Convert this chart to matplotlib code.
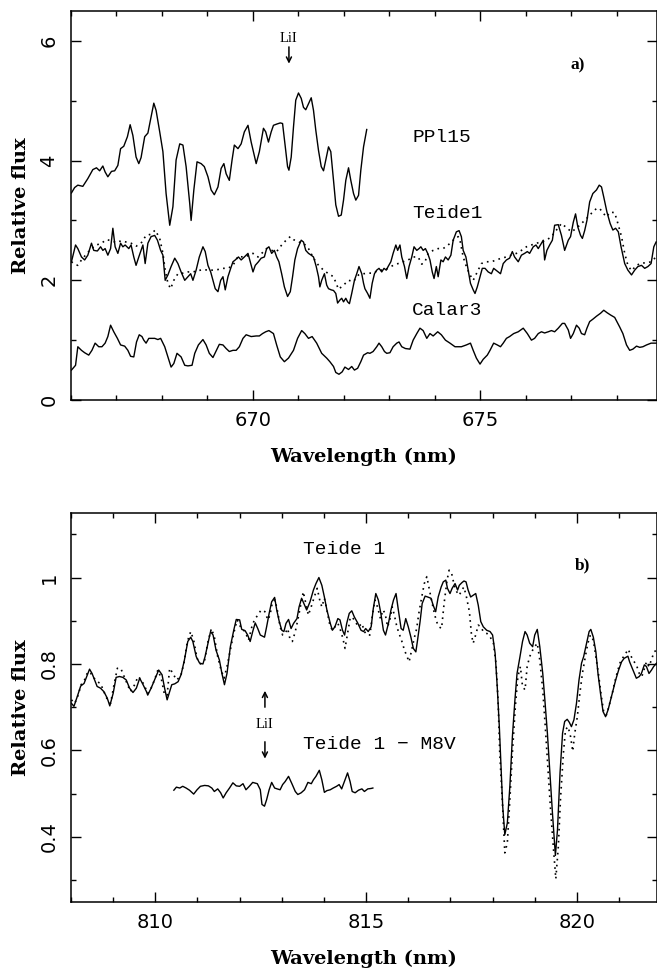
import numpy as np
import matplotlib
matplotlib.use("Agg")
import matplotlib.pyplot as plt
from matplotlib.ticker import MultipleLocator, FormatStrFormatter

# ---------------- Panel a) data (wavelength nm, relative flux) ----------------
ppl15 = np.array([
    [666.01,3.46],[666.08,3.55],[666.15,3.59],[666.26,3.57],[666.37,3.70],[666.48,3.85],[666.56,3.88],
    [666.63,3.83],[666.70,3.91],[666.75,3.81],[666.81,3.73],[666.89,3.82],[666.96,3.83],[667.03,3.92],
    [667.09,4.20],[667.16,4.24],[667.24,4.40],[667.30,4.60],[667.36,4.42],[667.43,4.06],[667.49,3.95],
    [667.54,4.05],[667.62,4.40],[667.69,4.46],[667.76,4.73],[667.82,4.96],[667.87,4.84],[667.95,4.48],
    [668.02,4.15],[668.09,3.45],[668.17,2.92],[668.24,3.23],[668.31,4.01],[668.39,4.28],[668.46,4.26],
    [668.53,3.90],[668.61,3.28],[668.64,3.00],[668.70,3.51],[668.77,3.98],[668.86,3.95],[668.93,3.90],
    [669.01,3.73],[669.08,3.51],[669.15,3.43],[669.23,3.56],[669.30,3.87],[669.36,3.95],[669.41,3.78],
    [669.48,3.67],[669.54,4.01],[669.59,4.26],[669.67,4.20],[669.74,4.28],[669.81,4.48],[669.89,4.59],
    [669.96,4.31],[670.07,3.95],[670.14,4.15],[670.23,4.54],[670.28,4.48],[670.34,4.31],[670.40,4.48],
    [670.45,4.59],[670.52,4.61],[670.60,4.63],[670.65,4.62],[670.71,4.23],[670.76,3.90],[670.79,3.84],
    [670.84,4.06],[670.89,4.56],[670.94,5.01],[671.00,5.13],[671.06,5.04],[671.11,4.89],[671.16,4.85],
    [671.22,4.95],[671.28,5.05],[671.33,4.84],[671.38,4.51],[671.44,4.17],[671.50,3.90],[671.55,3.83],
    [671.60,4.01],[671.66,4.23],[671.71,4.15],[671.77,3.67],[671.82,3.26],[671.88,3.07],[671.94,3.09],
    [671.99,3.34],[672.04,3.67],[672.10,3.88],[672.15,3.67],[672.21,3.45],[672.26,3.34],[672.32,3.42],
    [672.37,3.84],[672.43,4.23],[672.50,4.52]])

teide1_a = np.array([
    [666.01,2.31],[666.10,2.59],[666.15,2.53],[666.23,2.39],[666.30,2.34],[666.37,2.42],[666.45,2.62],
    [666.50,2.50],[666.58,2.49],[666.65,2.56],[666.70,2.50],[666.75,2.53],[666.81,2.42],[666.87,2.53],
    [666.92,2.87],[666.97,2.56],[667.03,2.45],[667.09,2.62],[667.14,2.56],[667.19,2.59],[667.27,2.53],
    [667.32,2.59],[667.38,2.39],[667.43,2.25],[667.49,2.39],[667.54,2.50],[667.58,2.59],[667.63,2.28],
    [667.69,2.62],[667.76,2.73],[667.84,2.75],[667.90,2.67],[667.97,2.50],[668.02,2.42],[668.07,2.00],
    [668.13,2.09],[668.20,2.23],[668.28,2.37],[668.35,2.28],[668.42,2.14],[668.50,2.00],[668.57,2.06],
    [668.63,2.11],[668.68,2.00],[668.75,2.17],[668.82,2.39],[668.90,2.56],[668.95,2.48],[669.01,2.25],
    [669.07,2.14],[669.12,2.00],[669.17,1.86],[669.23,1.81],[669.29,2.00],[669.34,2.06],[669.39,1.84],
    [669.45,2.06],[669.51,2.20],[669.56,2.31],[669.61,2.34],[669.68,2.39],[669.74,2.34],[669.81,2.39],
    [669.89,2.45],[669.94,2.31],[670.00,2.14],[670.05,2.25],[670.12,2.31],[670.18,2.37],[670.25,2.39],
    [670.30,2.53],[670.35,2.56],[670.41,2.45],[670.47,2.50],[670.52,2.39],[670.57,2.31],[670.63,2.11],
    [670.69,1.89],[670.76,1.73],[670.82,1.81],[670.87,2.06],[670.92,2.34],[670.98,2.53],[671.06,2.67],
    [671.11,2.64],[671.16,2.50],[671.22,2.45],[671.28,2.42],[671.33,2.39],[671.39,2.23],[671.44,2.06],
    [671.47,1.89],[671.51,2.00],[671.57,2.11],[671.62,1.92],[671.66,1.86],[671.72,1.84],[671.77,1.83],
    [671.82,1.78],[671.86,1.62],[671.91,1.67],[671.95,1.70],[671.99,1.64],[672.04,1.70],[672.08,1.64],
    [672.12,1.61],[672.17,1.78],[672.23,2.00],[672.28,2.11],[672.33,2.23],[672.39,2.11],[672.43,1.95],
    [672.46,1.86],[672.52,1.78],[672.57,1.70],[672.62,1.95],[672.67,2.11],[672.72,2.17],[672.77,2.20],
    [672.83,2.14],[672.88,2.20],[672.93,2.17],[672.97,2.23],[673.03,2.31],[673.08,2.45],[673.14,2.59],
    [673.18,2.50],[673.23,2.59],[673.27,2.39],[673.33,2.23],[673.38,2.03],[673.43,2.23],[673.49,2.39],
    [673.54,2.56],[673.60,2.50],[673.65,2.53],[673.69,2.56],[673.74,2.50],[673.79,2.53],[673.84,2.45],
    [673.89,2.34],[673.94,2.14],[673.98,2.03],[674.03,2.23],[674.07,2.06],[674.13,2.34],[674.18,2.31],
    [674.23,2.39],[674.29,2.34],[674.35,2.42],[674.40,2.67],[674.47,2.81],[674.53,2.83],[674.58,2.73],
    [674.62,2.50],[674.68,2.39],[674.73,2.17],[674.78,1.95],[674.84,1.84],[674.88,1.78],[674.93,1.89],
    [674.99,2.06],[675.04,2.20],[675.10,2.20],[675.17,2.14],[675.24,2.11],[675.29,2.20],[675.34,2.17],
    [675.39,2.14],[675.44,2.11],[675.50,2.28],[675.57,2.34],[675.64,2.37],[675.70,2.48],[675.75,2.39],
    [675.83,2.31],[675.90,2.42],[675.97,2.45],[676.03,2.48],[676.08,2.45],[676.16,2.56],[676.22,2.59],
    [676.27,2.53],[676.34,2.62],[676.38,2.67],[676.41,2.34],[676.46,2.50],[676.52,2.59],[676.58,2.67],
    [676.63,2.92],[676.71,2.93],[676.78,2.75],[676.85,2.50],[676.93,2.67],[676.98,2.73],[677.04,2.97],
    [677.09,3.11],[677.14,2.89],[677.20,2.75],[677.24,2.70],[677.29,2.83],[677.34,3.00],[677.40,3.31],
    [677.47,3.45],[677.55,3.51],[677.61,3.59],[677.66,3.56],[677.71,3.39],[677.78,3.14],[677.85,2.95],
    [677.91,2.84],[677.97,2.87],[678.03,2.81],[678.09,2.56],[678.17,2.28],[678.24,2.17],[678.32,2.09],
    [678.39,2.17],[678.46,2.23],[678.54,2.25],[678.61,2.20],[678.68,2.23],[678.75,2.28],[678.81,2.56],
    [678.86,2.64]])

teide1_a_template = np.array([
    [666.01,2.31],[666.08,2.27],[666.15,2.25],[666.23,2.34],[666.34,2.44],[666.45,2.53],[666.56,2.59],
    [666.67,2.62],[666.78,2.68],[666.89,2.66],[667.00,2.63],[667.10,2.66],[667.21,2.64],[667.32,2.62],
    [667.43,2.57],[667.54,2.62],[667.65,2.75],[667.76,2.77],[667.85,2.84],[667.95,2.70],[668.02,2.45],
    [668.07,2.17],[668.13,1.95],[668.19,1.86],[668.26,2.00],[668.35,2.11],[668.46,2.12],[668.57,2.14],
    [668.68,2.14],[668.79,2.16],[668.90,2.18],[669.01,2.17],[669.12,2.17],[669.23,2.18],[669.34,2.20],
    [669.45,2.20],[669.56,2.25],[669.67,2.40],[669.78,2.39],[669.89,2.41],[670.00,2.45],[670.11,2.39],
    [670.19,2.45],[670.30,2.53],[670.41,2.50],[670.52,2.48],[670.63,2.59],[670.74,2.68],[670.82,2.73],
    [670.89,2.68],[671.00,2.64],[671.11,2.62],[671.22,2.53],[671.33,2.37],[671.44,2.25],[671.55,2.17],
    [671.66,2.11],[671.77,2.06],[671.88,1.85],[671.99,1.92],[672.10,2.00],[672.21,1.98],[672.32,2.09],
    [672.43,2.11],[672.55,2.12],[672.65,2.12],[672.75,2.17],[672.86,2.17],[672.97,2.20],[673.08,2.25],
    [673.19,2.28],[673.30,2.31],[673.41,2.34],[673.52,2.39],[673.63,2.39],[673.71,2.27],[673.78,2.31],
    [673.85,2.45],[673.96,2.50],[674.07,2.53],[674.18,2.53],[674.29,2.59],[674.40,2.67],[674.51,2.73],
    [674.55,2.67],[674.62,2.39],[674.69,2.23],[674.77,2.09],[674.84,2.00],[674.91,2.11],[675.02,2.28],
    [675.13,2.31],[675.24,2.31],[675.35,2.34],[675.46,2.37],[675.57,2.39],[675.68,2.42],[675.79,2.45],
    [675.90,2.50],[676.01,2.56],[676.12,2.59],[676.23,2.62],[676.34,2.64],[676.45,2.67],[676.56,2.73],
    [676.67,2.84],[676.78,2.95],[676.89,2.88],[677.00,2.81],[677.11,2.87],[677.22,2.95],[677.33,3.03],
    [677.44,3.12],[677.55,3.20],[677.62,3.20],[677.70,3.12],[677.77,3.06],[677.85,3.14],[677.95,3.13],
    [678.02,2.95],[678.10,2.73],[678.17,2.45],[678.24,2.25],[678.32,2.16],[678.43,2.25],[678.54,2.29],
    [678.65,2.29],[678.75,2.31],[678.86,2.39]])

calar3 = np.array([
    [666.01,0.50],[666.10,0.58],[666.15,0.89],[666.23,0.83],[666.30,0.79],[666.39,0.75],[666.46,0.83],
    [666.53,0.95],[666.61,0.89],[666.68,0.89],[666.75,0.95],[666.81,1.06],[666.87,1.25],[666.94,1.14],
    [667.02,1.03],[667.09,0.92],[667.18,0.90],[667.25,0.83],[667.31,0.73],[667.38,0.72],[667.44,0.97],
    [667.50,1.09],[667.56,1.06],[667.60,1.00],[667.65,0.95],[667.71,1.03],[667.76,1.03],[667.84,1.03],
    [667.91,1.01],[667.97,1.03],[668.06,0.89],[668.13,0.72],[668.20,0.55],[668.26,0.61],[668.33,0.78],
    [668.42,0.72],[668.50,0.58],[668.57,0.57],[668.66,0.58],[668.72,0.78],[668.80,0.92],[668.90,1.01],
    [668.97,0.92],[669.04,0.78],[669.12,0.71],[669.19,0.82],[669.26,0.93],[669.34,0.92],[669.41,0.86],
    [669.48,0.81],[669.56,0.83],[669.63,0.83],[669.70,0.89],[669.78,1.03],[669.85,1.09],[669.96,1.06],
    [670.07,1.07],[670.14,1.07],[670.21,1.11],[670.28,1.14],[670.35,1.16],[670.45,1.11],[670.52,0.92],
    [670.60,0.72],[670.69,0.64],[670.78,0.70],[670.89,0.83],[670.98,1.03],[671.07,1.16],[671.14,1.11],
    [671.22,1.03],[671.30,1.06],[671.40,0.95],[671.51,0.78],[671.62,0.70],[671.69,0.64],[671.77,0.56],
    [671.82,0.46],[671.89,0.43],[671.96,0.47],[672.02,0.55],[672.10,0.51],[672.17,0.56],[672.23,0.50],
    [672.30,0.53],[672.37,0.64],[672.43,0.75],[672.52,0.79],[672.57,0.78],[672.64,0.81],[672.72,0.89],
    [672.77,0.95],[672.83,0.89],[672.89,0.81],[672.94,0.78],[673.01,0.79],[673.08,0.89],[673.16,0.95],
    [673.21,0.97],[673.27,0.89],[673.35,0.86],[673.45,0.85],[673.52,1.00],[673.60,1.11],[673.67,1.20],
    [673.74,1.16],[673.82,1.03],[673.89,1.11],[673.96,1.07],[674.06,1.14],[674.14,1.09],[674.23,1.00],
    [674.33,0.95],[674.44,0.89],[674.58,0.89],[674.69,0.92],[674.78,0.95],[674.84,0.83],[674.91,0.70],
    [674.99,0.60],[675.06,0.68],[675.15,0.75],[675.21,0.83],[675.29,0.95],[675.37,0.92],[675.44,0.89],
    [675.50,0.95],[675.57,1.03],[675.64,1.06],[675.73,1.11],[675.83,1.14],[675.94,1.20],[676.03,1.11],
    [676.12,1.00],[676.19,1.03],[676.27,1.11],[676.34,1.14],[676.41,1.12],[676.49,1.14],[676.56,1.16],
    [676.63,1.14],[676.71,1.20],[676.80,1.28],[676.85,1.28],[676.93,1.17],[676.98,1.03],[677.04,1.11],
    [677.11,1.25],[677.17,1.20],[677.22,1.11],[677.29,1.09],[677.34,1.20],[677.40,1.31],[677.47,1.35],
    [677.55,1.40],[677.64,1.45],[677.71,1.50],[677.78,1.46],[677.86,1.42],[677.95,1.38],[678.06,1.22],
    [678.13,1.11],[678.21,0.92],[678.28,0.83],[678.35,0.85],[678.43,0.90],[678.50,0.88],[678.57,0.89],
    [678.65,0.92],[678.75,0.95],[678.86,0.95]])

# ---------------- Panel b) data ----------------
teide1_b = np.array([
    [808.01,0.709],[808.07,0.702],[808.15,0.725],[808.23,0.749],[808.31,0.755],[808.39,0.775],[808.44,0.788],
    [808.50,0.778],[808.56,0.763],[808.62,0.748],[808.70,0.744],[808.78,0.736],[808.86,0.721],[808.92,0.703],
    [809.00,0.732],[809.07,0.769],[809.15,0.771],[809.23,0.769],[809.31,0.763],[809.39,0.744],[809.47,0.734],
    [809.55,0.744],[809.63,0.767],[809.71,0.752],[809.79,0.736],[809.82,0.728],[809.90,0.744],[810.00,0.767],
    [810.08,0.786],[810.16,0.775],[810.22,0.744],[810.28,0.717],[810.34,0.736],[810.39,0.752],[810.46,0.754],
    [810.54,0.759],[810.61,0.775],[810.69,0.809],[810.77,0.852],[810.84,0.862],[810.89,0.852],[810.97,0.817],
    [811.05,0.802],[811.13,0.800],[811.18,0.817],[811.25,0.848],[811.31,0.875],[811.37,0.867],[811.44,0.832],
    [811.52,0.809],[811.58,0.778],[811.64,0.752],[811.70,0.778],[811.78,0.840],[811.86,0.878],[811.92,0.903],
    [812.00,0.902],[812.05,0.880],[812.13,0.877],[812.19,0.867],[812.25,0.852],[812.31,0.875],[812.37,0.895],
    [812.43,0.882],[812.49,0.867],[812.59,0.862],[812.64,0.886],[812.70,0.917],[812.76,0.944],[812.83,0.954],
    [812.88,0.925],[812.94,0.898],[813.00,0.878],[813.05,0.875],[813.10,0.894],[813.16,0.903],[813.22,0.882],
    [813.28,0.894],[813.36,0.905],[813.41,0.932],[813.47,0.952],[813.54,0.936],[813.59,0.925],[813.67,0.944],
    [813.75,0.971],[813.81,0.986],[813.88,1.000],[813.95,0.982],[814.01,0.955],[814.07,0.925],[814.15,0.894],
    [814.20,0.878],[814.26,0.886],[814.33,0.905],[814.38,0.902],[814.44,0.878],[814.49,0.867],[814.54,0.894],
    [814.60,0.917],[814.66,0.923],[814.72,0.909],[814.80,0.895],[814.88,0.878],[814.94,0.875],[814.99,0.882],
    [815.05,0.875],[815.12,0.886],[815.17,0.928],[815.23,0.963],[815.29,0.948],[815.35,0.917],[815.41,0.878],
    [815.46,0.867],[815.53,0.894],[815.59,0.925],[815.65,0.948],[815.71,0.963],[815.76,0.928],[815.83,0.882],
    [815.88,0.878],[815.94,0.905],[816.00,0.886],[816.06,0.863],[816.12,0.836],[816.18,0.828],[816.22,0.855],
    [816.28,0.898],[816.33,0.940],[816.40,0.957],[816.46,0.955],[816.54,0.952],[816.59,0.936],[816.65,0.921],
    [816.71,0.955],[816.78,0.978],[816.83,0.990],[816.89,0.994],[816.93,0.975],[816.99,0.963],[817.04,0.975],
    [817.11,0.986],[817.17,0.971],[817.21,0.982],[817.27,0.988],[817.32,0.992],[817.37,0.990],[817.42,0.971],
    [817.48,0.955],[817.54,0.959],[817.60,0.963],[817.66,0.936],[817.72,0.898],[817.78,0.886],[817.86,0.878],
    [817.94,0.875],[818.00,0.867],[818.06,0.825],[818.11,0.748],[818.16,0.655],[818.20,0.563],[818.24,0.471],
    [818.29,0.405],[818.35,0.432],[818.41,0.517],[818.47,0.632],[818.53,0.717],[818.58,0.778],[818.65,0.817],
    [818.71,0.852],[818.77,0.875],[818.82,0.867],[818.88,0.848],[818.95,0.840],[819.00,0.867],[819.06,0.880],
    [819.12,0.840],[819.19,0.778],[819.24,0.717],[819.30,0.640],[819.36,0.548],[819.42,0.455],[819.49,0.357],
    [819.54,0.417],[819.60,0.548],[819.66,0.640],[819.71,0.667],[819.77,0.672],[819.82,0.665],[819.87,0.655],
    [819.93,0.671],[819.99,0.709],[820.05,0.763],[820.11,0.802],[820.16,0.817],[820.23,0.848],[820.29,0.875],
    [820.33,0.880],[820.39,0.862],[820.45,0.828],[820.50,0.778],[820.56,0.732],[820.62,0.690],[820.68,0.678],
    [820.74,0.694],[820.80,0.717],[820.86,0.740],[820.92,0.763],[820.99,0.786],[821.06,0.805],[821.12,0.813],
    [821.21,0.818],[821.25,0.805],[821.33,0.786],[821.41,0.767],[821.48,0.771],[821.53,0.778],[821.60,0.798],
    [821.65,0.794],[821.71,0.778],[821.77,0.786],[821.82,0.794],[821.89,0.802]])

m8v_template_b = np.array([
    [808.01,0.717],[808.09,0.709],[808.17,0.728],[808.24,0.752],[808.32,0.763],[808.40,0.782],[808.47,0.778],
    [808.55,0.767],[808.62,0.759],[808.70,0.755],[808.78,0.736],[808.86,0.718],[808.94,0.709],[809.02,0.752],
    [809.10,0.790],[809.18,0.790],[809.26,0.771],[809.33,0.755],[809.41,0.736],[809.51,0.752],[809.59,0.771],
    [809.67,0.763],[809.75,0.748],[809.82,0.732],[809.90,0.744],[809.98,0.763],[810.06,0.786],[810.14,0.767],
    [810.22,0.728],[810.28,0.728],[810.34,0.790],[810.42,0.778],[810.50,0.763],[810.60,0.771],[810.68,0.802],
    [810.76,0.852],[810.84,0.875],[810.91,0.855],[810.99,0.813],[811.07,0.800],[811.17,0.809],[811.25,0.852],
    [811.33,0.882],[811.40,0.863],[811.48,0.817],[811.56,0.786],[811.63,0.767],[811.70,0.794],[811.78,0.832],
    [811.86,0.871],[811.94,0.902],[812.04,0.882],[812.13,0.875],[812.21,0.855],[812.29,0.886],[812.35,0.902],
    [812.43,0.913],[812.51,0.925],[812.60,0.921],[812.67,0.902],[812.72,0.913],[812.78,0.944],[812.84,0.948],
    [812.91,0.917],[812.96,0.886],[813.02,0.867],[813.08,0.871],[813.14,0.882],[813.20,0.855],[813.25,0.852],
    [813.32,0.875],[813.38,0.902],[813.44,0.932],[813.51,0.967],[813.57,0.940],[813.63,0.913],[813.71,0.936],
    [813.77,0.955],[813.84,0.975],[813.90,0.948],[813.95,0.932],[814.01,0.952],[814.07,0.925],[814.14,0.890],
    [814.20,0.878],[814.26,0.886],[814.33,0.894],[814.38,0.882],[814.45,0.859],[814.50,0.836],[814.56,0.871],
    [814.62,0.905],[814.67,0.909],[814.74,0.898],[814.82,0.886],[814.90,0.894],[814.96,0.875],[815.02,0.867],
    [815.09,0.867],[815.15,0.913],[815.21,0.948],[815.27,0.932],[815.34,0.905],[815.40,0.925],[815.45,0.917],
    [815.51,0.886],[815.57,0.905],[815.62,0.932],[815.67,0.913],[815.73,0.886],[815.78,0.871],[815.84,0.855],
    [815.91,0.832],[815.97,0.817],[816.02,0.805],[816.08,0.832],[816.14,0.859],[816.20,0.882],[816.25,0.917],
    [816.32,0.955],[816.38,0.986],[816.44,1.002],[816.49,0.978],[816.55,0.948],[816.62,0.917],[816.67,0.898],
    [816.73,0.886],[816.79,0.882],[816.85,0.940],[816.92,0.994],[816.97,1.017],[817.03,1.009],[817.09,0.982],
    [817.15,0.967],[817.21,0.959],[817.27,0.971],[817.32,0.978],[817.38,0.955],[817.45,0.921],[817.50,0.867],
    [817.54,0.848],[817.61,0.871],[817.66,0.890],[817.72,0.886],[817.78,0.875],[817.86,0.871],[817.94,0.863],
    [818.02,0.848],[818.08,0.802],[818.13,0.717],[818.17,0.594],[818.23,0.486],[818.29,0.363],[818.35,0.386],
    [818.41,0.486],[818.47,0.594],[818.54,0.702],[818.60,0.771],[818.66,0.794],[818.71,0.748],[818.77,0.740],
    [818.82,0.794],[818.88,0.817],[818.95,0.832],[819.00,0.840],[819.06,0.848],[819.12,0.809],[819.19,0.740],
    [819.25,0.655],[819.31,0.563],[819.37,0.471],[819.44,0.378],[819.50,0.303],[819.56,0.378],[819.61,0.486],
    [819.68,0.594],[819.73,0.648],[819.79,0.655],[819.85,0.632],[819.90,0.598],[819.95,0.640],[820.01,0.678],
    [820.07,0.732],[820.13,0.778],[820.20,0.817],[820.26,0.848],[820.32,0.867],[820.39,0.855],[820.45,0.817],
    [820.51,0.778],[820.58,0.725],[820.64,0.686],[820.70,0.682],[820.76,0.702],[820.83,0.728],[820.89,0.755],
    [820.95,0.778],[821.02,0.802],[821.08,0.813],[821.16,0.825],[821.22,0.834],[821.27,0.821],[821.33,0.809],
    [821.41,0.798],[821.48,0.778],[821.54,0.771],[821.59,0.786],[821.65,0.805],[821.71,0.794],[821.78,0.813],
    [821.83,0.828],[821.89,0.832]])

residual_b = np.array([
    [810.44,0.508],[810.50,0.515],[810.58,0.513],[810.65,0.517],[810.73,0.513],[810.81,0.508],[810.91,0.499],
    [810.99,0.509],[811.07,0.517],[811.17,0.519],[811.26,0.518],[811.34,0.513],[811.40,0.505],[811.48,0.511],
    [811.55,0.502],[811.61,0.490],[811.68,0.502],[811.76,0.513],[811.84,0.525],[811.92,0.518],[812.00,0.517],
    [812.08,0.523],[812.15,0.509],[812.23,0.517],[812.31,0.526],[812.42,0.523],[812.49,0.509],[812.53,0.475],
    [812.59,0.471],[812.64,0.486],[812.70,0.509],[812.76,0.526],[812.83,0.513],[812.89,0.511],[812.96,0.509],
    [813.02,0.521],[813.08,0.528],[813.16,0.540],[813.24,0.523],[813.32,0.505],[813.38,0.498],[813.46,0.502],
    [813.54,0.509],[813.62,0.526],[813.70,0.523],[813.75,0.532],[813.81,0.540],[813.89,0.554],[813.95,0.532],
    [814.01,0.503],[814.07,0.507],[814.15,0.509],[814.22,0.513],[814.30,0.517],[814.36,0.521],[814.42,0.511],
    [814.50,0.532],[814.56,0.548],[814.62,0.528],[814.67,0.505],[814.74,0.502],[814.82,0.508],[814.90,0.511],
    [814.96,0.505],[815.04,0.511],[815.12,0.512],[815.16,0.513]])

a_xlim = (666.0, 678.88)
a_ylim = (0.0, 6.5)
b_xlim = (808.0, 821.9)
b_ylim = (0.25, 1.15)

# ---------------- Figure ----------------
W, H = 657, 974
fig = plt.figure(figsize=(W / 100, H / 100), dpi=100)

label_font = dict(family="DejaVu Serif", size=14, weight="bold")
name_font = dict(family="Liberation Mono", size=14)
panel_font = dict(family="Liberation Serif", size=12.5, weight="bold")
li_font = dict(family="Liberation Serif", size=10.5)

def style_axes(ax, xmaj, xmin, ymaj, ymin):
    ax.xaxis.set_major_locator(MultipleLocator(xmaj))
    ax.xaxis.set_minor_locator(MultipleLocator(xmin))
    ax.yaxis.set_major_locator(MultipleLocator(ymaj))
    ax.yaxis.set_minor_locator(MultipleLocator(ymin))
    ax.yaxis.set_major_formatter(FormatStrFormatter('%g'))
    ax.tick_params(which='both', direction='in', top=True, right=True, width=1.0)
    ax.tick_params(which='major', length=7.5)
    ax.tick_params(which='minor', length=3.8)
    ax.tick_params(axis='x', which='major', pad=8, labelsize=14)
    ax.tick_params(axis='y', which='major', pad=9, labelsize=14, labelrotation=90)
    for s in ax.spines.values():
        s.set_linewidth(1.1)
    for lab in ax.get_xticklabels() + ax.get_yticklabels():
        lab.set_family("DejaVu Sans")
    for lab in ax.get_yticklabels():
        lab.set_va('center')

# ---- panel a ----
axa = fig.add_axes([71 / W, 1 - 400 / H, (W - 71) / W, (400 - 11) / H])
axa.plot(ppl15[:, 0], ppl15[:, 1], color='black', lw=1.0)
axa.plot(teide1_a[:, 0], teide1_a[:, 1], color='black', lw=1.0)
axa.plot(teide1_a_template[:, 0], teide1_a_template[:, 1], color='black', lw=1.2,
         linestyle=(0, (1, 2.6)))
axa.plot(calar3[:, 0], calar3[:, 1], color='black', lw=1.0)
axa.set_xlim(*a_xlim)
axa.set_ylim(*a_ylim)
style_axes(axa, 5, 1, 2, 1)
axa.set_xlabel("Wavelength (nm)", labelpad=13, **label_font)
axa.set_ylabel("Relative flux", labelpad=7, **label_font)

axa.text(673.5, 4.39, "PPl15", va='center', ha='left', **name_font)
axa.text(673.5, 3.12, "Teide1", va='center', ha='left', **name_font)
axa.text(673.5, 1.50, "Calar3", va='center', ha='left', **name_font)
axa.text(677.13, 5.59, "a)", va='center', ha='center', **panel_font)
axa.text(670.79, 6.04, "LiI", va='center', ha='center', **li_font)
axa.annotate("", xy=(670.79, 5.62), xytext=(670.79, 5.90),
             arrowprops=dict(arrowstyle='->', lw=1.1, color='black', mutation_scale=9,
                             shrinkA=0, shrinkB=0))

# ---- panel b ----
axb = fig.add_axes([71 / W, 1 - 901.7 / H, (W - 71) / W, (901.7 - 512.7) / H])
axb.plot(teide1_b[:, 0], teide1_b[:, 1], color='black', lw=1.0)
axb.plot(m8v_template_b[:, 0], m8v_template_b[:, 1], color='black', lw=1.2,
         linestyle=(0, (1, 2.6)))
axb.plot(residual_b[:, 0], residual_b[:, 1], color='black', lw=1.0)
axb.set_xlim(*b_xlim)
axb.set_ylim(*b_ylim)
style_axes(axb, 5, 1, 0.2, 0.1)
axb.set_xlabel("Wavelength (nm)", labelpad=13, **label_font)
axb.set_ylabel("Relative flux", labelpad=7, **label_font)

axb.text(813.50, 1.064, "Teide 1", va='center', ha='left', **name_font)
axb.text(813.50, 0.613, "Teide 1 \u2212 M8V", va='center', ha='left', **name_font)
axb.text(820.13, 1.029, "b)", va='center', ha='center', **panel_font)
axb.text(812.60, 0.659, "LiI", va='center', ha='center', **li_font)
axb.annotate("", xy=(812.60, 0.738), xytext=(812.60, 0.700),
             arrowprops=dict(arrowstyle='->', lw=1.1, color='black', mutation_scale=9,
                             shrinkA=0, shrinkB=0))
axb.annotate("", xy=(812.60, 0.581), xytext=(812.60, 0.620),
             arrowprops=dict(arrowstyle='->', lw=1.1, color='black', mutation_scale=9,
                             shrinkA=0, shrinkB=0))

fig.savefig("out.png", dpi=100)
